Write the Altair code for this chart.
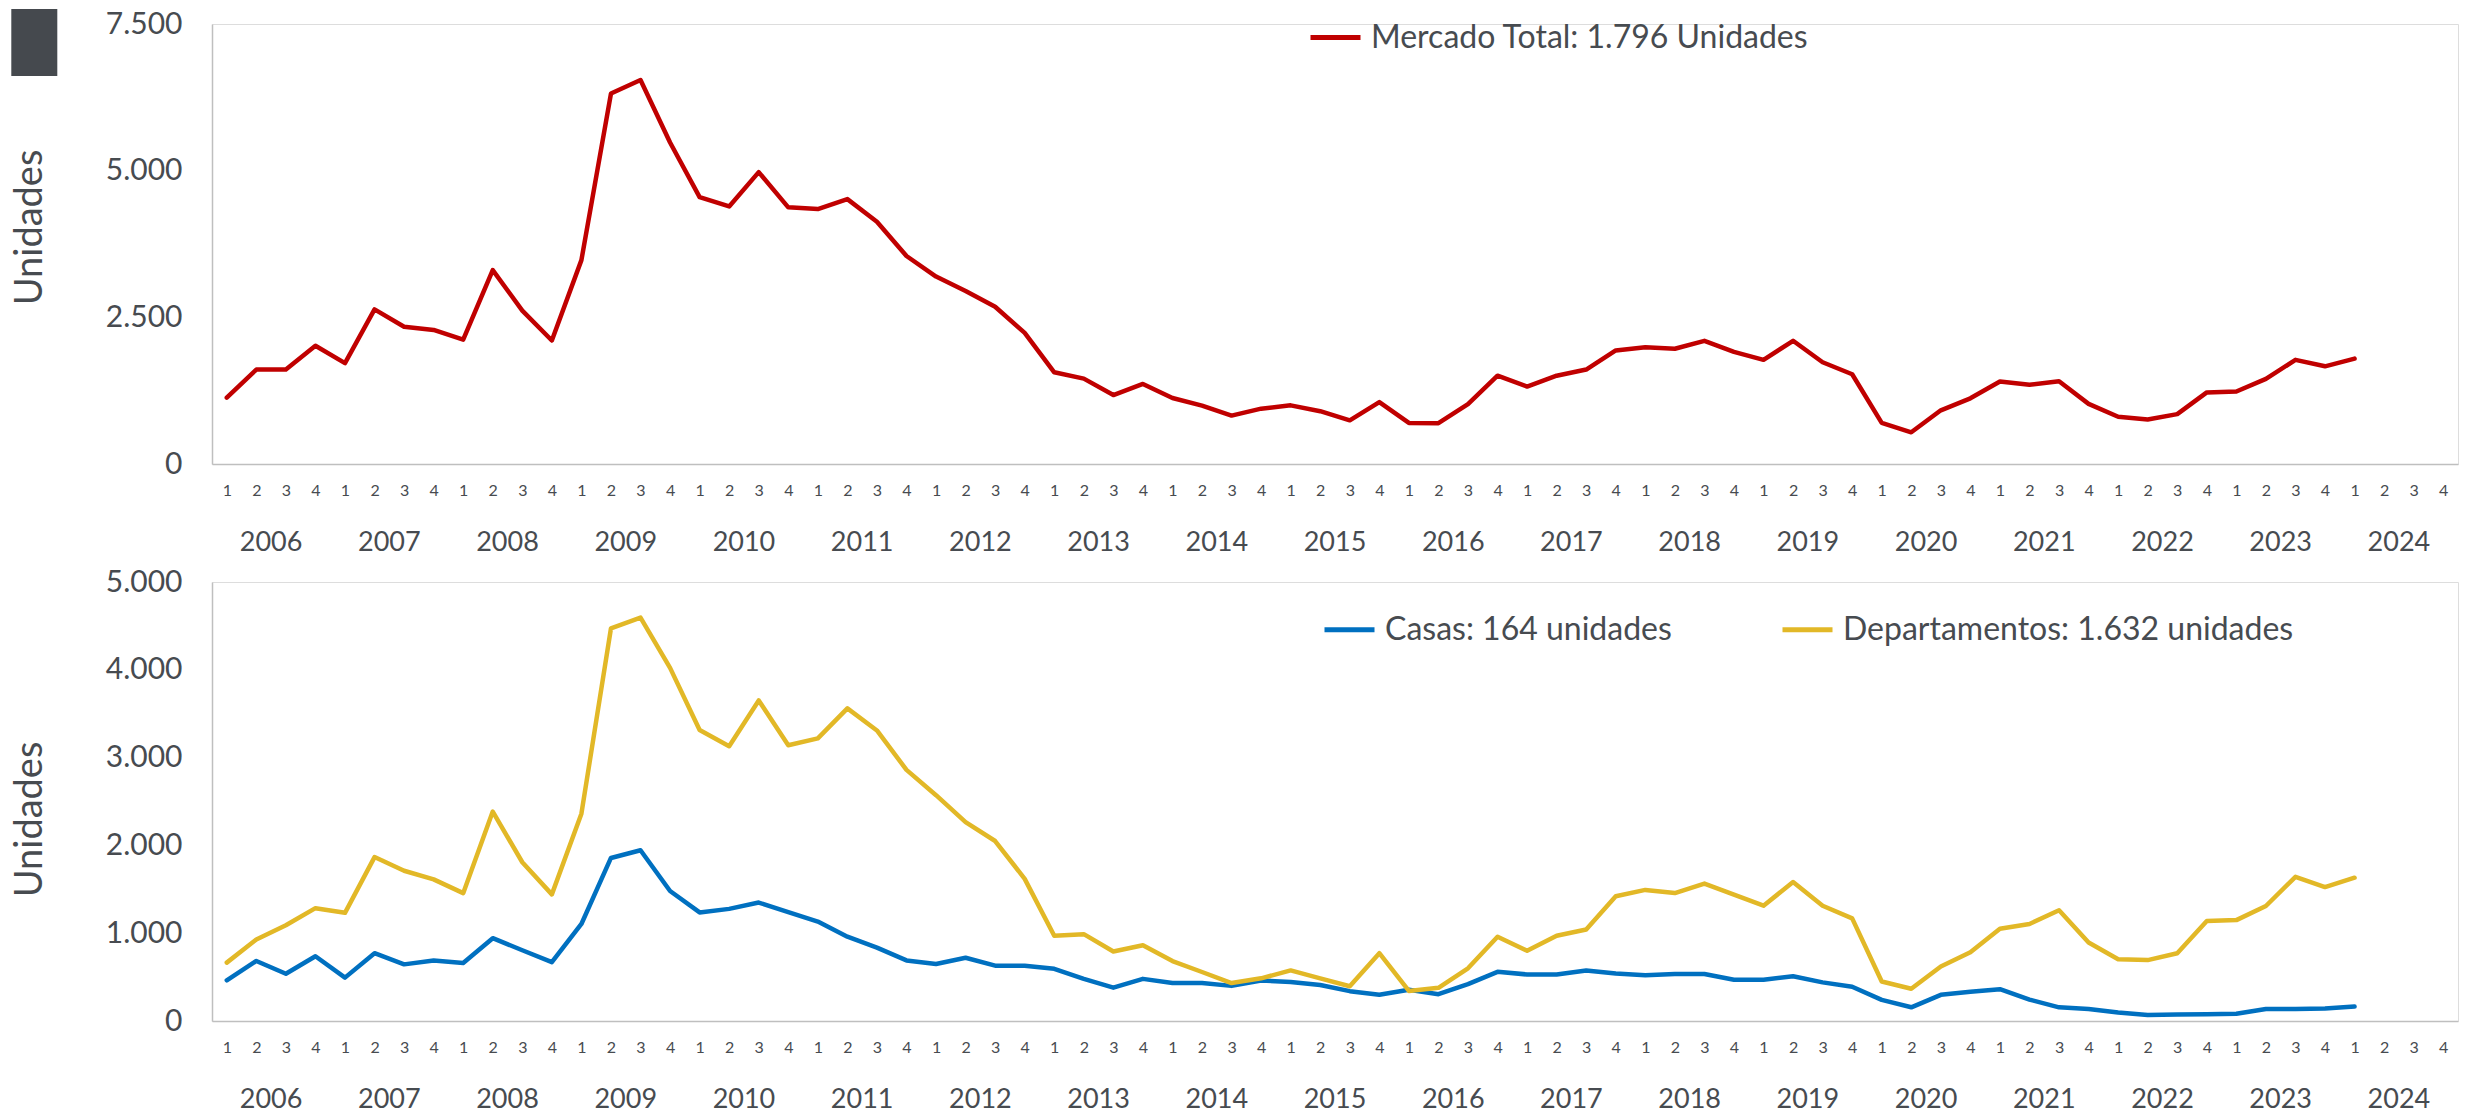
import altair as alt
import pandas as pd

# ---------------- data ----------------
years = list(range(2006, 2025))
quarter_names = ["1", "2", "3", "4"]

total_label = "Mercado Total: 1.796 Unidades"
casas_label = "Casas: 164 unidades"
dept_label = "Departamentos: 1.632 unidades"

total = [
    1130, 1610, 1610, 2015,
    1720, 2635, 2340, 2285,
    2120, 3305, 2615, 2105,
    3475, 6315, 6545, 5480,
    4550, 4390, 4975, 4375,
    4345, 4515, 4130, 3545,
    3195, 2950, 2680, 2235,
    1563, 1455, 1175, 1365,
    1125, 995, 825, 943,
    1000, 900, 745, 1055,
    700, 695, 1020, 1505,
    1320, 1505, 1610, 1935,
    1990, 1965, 2100, 1910,
    1775, 2100, 1735, 1530,
    700, 540, 915, 1120,
    1405, 1350, 1410, 1025,
    805, 760, 850, 1220,
    1235, 1450, 1775, 1665,
    1796,
]

casas = [
    464, 684, 538, 738,
    494, 772, 645, 689,
    660, 943, 806, 670,
    1105, 1857, 1945, 1481,
    1237, 1277, 1349, 1241,
    1133, 960, 835, 690,
    650, 720, 630, 630,
    595, 480, 380, 480,
    432, 432, 400, 460,
    445, 410, 340, 300,
    355, 305, 420, 560,
    530, 530, 575, 540,
    520, 535, 535, 470,
    470, 510, 440, 390,
    240, 156, 298, 332,
    362, 244, 156, 137,
    98, 68, 73, 78,
    83, 137, 137, 142,
    164,
]

departamentos = [
    665, 929, 1090, 1285,
    1232, 1867, 1711, 1613,
    1456, 2385, 1808, 1442,
    2361, 4472, 4594, 4022,
    3314, 3129, 3651, 3140,
    3219, 3561, 3309, 2860,
    2572, 2266, 2050, 1619,
    971, 989, 791, 863,
    683, 558, 432, 486,
    576, 486, 396, 773,
    342, 378, 600, 960,
    800, 971, 1043, 1421,
    1493, 1457, 1565, 1439,
    1313, 1583, 1313, 1169,
    450, 367, 621, 782,
    1051, 1105, 1261, 894,
    704, 694, 772, 1139,
    1149, 1310, 1642, 1525,
    1632,
]

# ---------------- tables ----------------
n_q = len(years) * len(quarter_names)
df_total = pd.DataFrame({"q": list(range(len(total))), "v": total, "serie": total_label})
df_bottom = pd.concat([
    pd.DataFrame({"q": list(range(len(casas))), "v": casas, "serie": casas_label}),
    pd.DataFrame({"q": list(range(len(departamentos))), "v": departamentos, "serie": dept_label}),
])
df_years = pd.DataFrame({"year": [str(y) for y in years],
                         "q": [(y - years[0]) * 4 + 1.5 for y in years]})
df_deco = pd.DataFrame({"k": [0]})

# ---------------- style ----------------
FONT = "Lato"
TXT = "#474B50"
AXC = "#BFBFBF"
W = 2246
H1 = 440
H2 = 439

x_scale = alt.Scale(domain=[-0.5, n_q - 0.5], nice=False, zero=False)


def x_enc():
    return alt.X(
        "q:Q", scale=x_scale,
        axis=alt.Axis(values=list(range(n_q)), labelExpr="datum.value % 4 + 1",
                      title=None, grid=False, ticks=False, domainColor=AXC,
                      domainWidth=1.5, labelFontSize=16, labelColor=TXT,
                      labelFont=FONT, labelPadding=18, labelFlush=False,
                      labelOverlap=False),
    )


def y_axis(vals, title_y):
    return alt.Axis(values=vals,
                    labelExpr="replace(format(datum.value, ','), ',', '.')",
                    title="Unidades", titleFontSize=38, titleFont=FONT,
                    titleColor=TXT, titleFontWeight="normal", titleAngle=270,
                    titleAlign="center", titleBaseline="middle",
                    titleX=-182, titleY=title_y,
                    grid=False, ticks=False, domainColor=AXC, domainWidth=1.5,
                    labelFontSize=30, labelFont=FONT, labelColor=TXT,
                    labelPadding=30, labelFlush=False)


def year_layer(h):
    return alt.Chart(df_years).mark_text(
        fontSize=27, font=FONT, color=TXT, baseline="middle", align="center"
    ).encode(x=x_enc(), y=alt.value(h + 79), text="year:N")


line_kw = dict(strokeWidth=4.5, strokeJoin="round", strokeCap="round")

top_line = alt.Chart(df_total).mark_line(**line_kw).encode(
    x=x_enc(),
    y=alt.Y("v:Q", scale=alt.Scale(domain=[0, 7500], nice=False),
            axis=y_axis([0, 2500, 5000, 7500], 203)),
    color=alt.Color("serie:N",
                    scale=alt.Scale(domain=[total_label], range=["#C00000"]),
                    legend=alt.Legend(orient="none", legendX=1096, legendY=-14,
                                      title=None, symbolType="stroke",
                                      symbolSize=2500, symbolStrokeWidth=5,
                                      labelFontSize=32, labelFont=FONT,
                                      labelColor=TXT, labelOffset=8,
                                      padding=0, labelLimit=0)),
)

deco = alt.Chart(df_deco).mark_rect(color="#45494E").encode(
    x=alt.value(-200.7), x2=alt.value(-154.7), y=alt.value(-15), y2=alt.value(52)
)

top = alt.layer(top_line, year_layer(H1), deco).properties(width=W, height=H1)

bottom_line = alt.Chart(df_bottom).mark_line(**line_kw).encode(
    x=x_enc(),
    y=alt.Y("v:Q", scale=alt.Scale(domain=[0, 5000], nice=False),
            axis=y_axis([0, 1000, 2000, 3000, 4000, 5000], 237)),
    color=alt.Color("serie:N",
                    scale=alt.Scale(domain=[casas_label, dept_label],
                                    range=["#0070C0", "#E2B827"]),
                    sort=[casas_label, dept_label],
                    legend=alt.Legend(orient="none", legendX=1110, legendY=20,
                                      direction="horizontal", title=None,
                                      symbolType="stroke", symbolSize=2500,
                                      symbolStrokeWidth=5, labelFontSize=32,
                                      labelFont=FONT, labelColor=TXT,
                                      labelOffset=8, padding=0, labelLimit=0,
                                      columnPadding=100)),
)

bottom = alt.layer(bottom_line, year_layer(H2)).properties(width=W, height=H2)

chart = alt.vconcat(top, bottom, spacing=9).resolve_scale(color="independent").properties(
    padding={"left": 2, "top": 0, "right": 0, "bottom": 0}
).configure_view(stroke=None).configure(background="white")

chart.save("out.html", embed_options={"renderer": "svg", "actions": False})
